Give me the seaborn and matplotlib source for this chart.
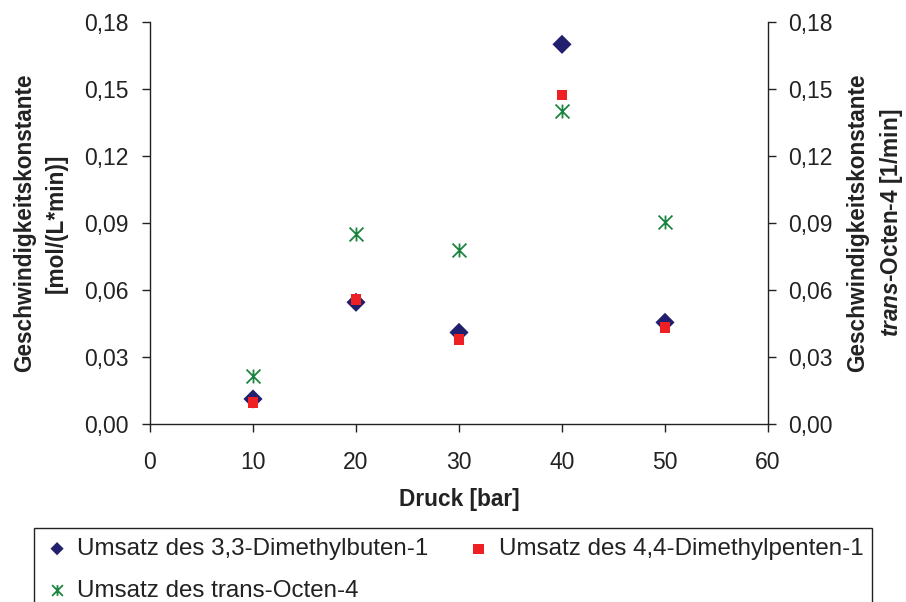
import numpy as np
import pandas as pd
import seaborn as sns
import matplotlib.pyplot as plt
from matplotlib.path import Path
from matplotlib.patches import Rectangle
from matplotlib.ticker import FuncFormatter, MultipleLocator

# Reaction rate constants vs. pressure
druck = [10, 20, 30, 40, 50]
k_dimethylbuten = [0.0112, 0.0545, 0.0410, 0.1700, 0.0455]
k_dimethylpenten = [0.0097, 0.0558, 0.0380, 0.1473, 0.0432]
k_octen = [0.0216, 0.0851, 0.0779, 0.1403, 0.0903]

labels = [
    "Umsatz des 3,3-Dimethylbuten-1",
    "Umsatz des 4,4-Dimethylpenten-1",
    "Umsatz des trans-Octen-4",
]
colors = ["#22206E", "#EE2024", "#1B8540"]
ink = "#222222"

sns.set_theme(style="ticks")
plt.rcParams["font.family"] = ["Liberation Sans", "DejaVu Sans"]
plt.rcParams["mathtext.fontset"] = "custom"
plt.rcParams["mathtext.bfit"] = "Liberation Sans:italic:bold"
plt.rcParams["mathtext.bf"] = "Liberation Sans:bold"
plt.rcParams["mathtext.it"] = "Liberation Sans:italic"
plt.rcParams["mathtext.rm"] = "Liberation Sans"

df = pd.DataFrame({
    "Druck": druck,
    "buten": k_dimethylbuten,
    "penten": k_dimethylpenten,
    "octen": k_octen,
})

# six-armed asterisk: vertical bar plus an X
star = Path(
    [(0, -1), (0, 1), (-1, -1), (1, 1), (-1, 1), (1, -1)],
    [Path.MOVETO, Path.LINETO, Path.MOVETO, Path.LINETO, Path.MOVETO, Path.LINETO],
)

fig = plt.figure(figsize=(9.06, 6.02), dpi=100)
ax = fig.add_axes([150 / 906, 1 - 424 / 602, 618 / 906, 402 / 602])
ax2 = ax.twinx()

sns.scatterplot(data=df, x="Druck", y="buten", ax=ax, marker="D", s=95,
                color=colors[0], edgecolor="none", linewidth=0, label=labels[0], zorder=3)
sns.scatterplot(data=df, x="Druck", y="penten", ax=ax, marker="s", s=60,
                color=colors[1], edgecolor="none", linewidth=0, label=labels[1], zorder=4)
sns.scatterplot(data=df, x="Druck", y="octen", ax=ax2, marker=star, s=100,
                color=colors[2], edgecolor=colors[2], linewidth=1.3, label=labels[2], zorder=3)

h1, l1 = ax.get_legend_handles_labels()
h2, l2 = ax2.get_legend_handles_labels()
for a in (ax, ax2):
    if a.get_legend() is not None:
        a.get_legend().remove()

comma = FuncFormatter(lambda v, p: f"{v:.2f}".replace(".", ","))
for a in (ax, ax2):
    a.set_ylim(0, 0.18)
    a.yaxis.set_major_locator(MultipleLocator(0.03))
    a.yaxis.set_major_formatter(comma)
    a.spines["top"].set_visible(False)
    for s in a.spines.values():
        s.set_color(ink)
        s.set_linewidth(1.0)
    a.tick_params(axis="both", labelsize=16.5, length=5.5, width=1.0,
                  color=ink, labelcolor=ink)

ax.tick_params(axis="y", pad=10)
ax2.tick_params(axis="y", pad=9)
ax.tick_params(axis="x", pad=14)

ax.set_xlim(0, 60)
ax.xaxis.set_major_locator(MultipleLocator(10))
ax.spines["right"].set_visible(False)
ax2.spines["left"].set_visible(False)
ax2.spines["bottom"].set_visible(False)

ax.set_xlabel("Druck [bar]", fontsize=16.3, fontweight="bold", labelpad=10, color=ink)
ax.set_ylabel("Geschwindigkeitskonstante\n[mol/(L*min)]", fontsize=16.3,
              fontweight="bold", color=ink, linespacing=1.5)
ax.yaxis.set_label_coords(-0.133, 0.5)
ax2.set_ylabel("Geschwindigkeitskonstante\n$\\mathbfit{trans}$-Octen-4 [1/min]",
               fontsize=16.3, fontweight="bold", color=ink, linespacing=1.45)
ax2.yaxis.set_label_coords(1.127, 0.5)

handles = [h1[0], h2[0], h1[1]]
texts = [l1[0], l2[0], l1[1]]
leg = fig.legend(handles, texts, loc="upper left",
                 bbox_to_anchor=(49.8 / 906, 1 - 538 / 602),
                 ncol=2, fontsize=17.4, frameon=False,
                 handlelength=0.6, handletextpad=0.53,
                 labelspacing=0.81, borderpad=0, borderaxespad=0, columnspacing=1.78)
for t in leg.get_texts():
    t.set_color(ink)
for hd, sz in zip(leg.legend_handles, [45, 60, 55]):
    hd.set_sizes([sz])

# legend box, running off the bottom edge
fig.add_artist(Rectangle((34 / 906, -0.05), (872 - 34) / 906, (602 - 528) / 602 + 0.05,
                         transform=fig.transFigure, fill=False, edgecolor=ink,
                         linewidth=1.0))

fig.savefig("out.png", dpi=100)
